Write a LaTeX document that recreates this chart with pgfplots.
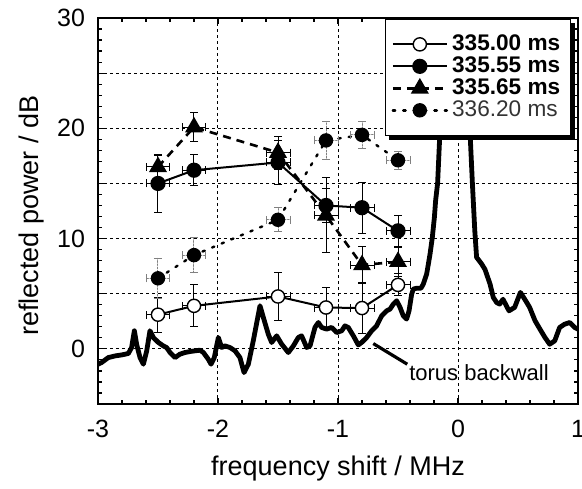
\documentclass[border=0pt]{standalone}
\usepackage{fontspec}
\setmainfont{Liberation Sans}
\usepackage{pgfplots}
\usepackage{pgfplotstable}
\pgfplotsset{compat=1.18}

\pgfplotstableread{
x y ex ey
-2.5 3.1 0.1 1.6
-2.2 3.9 0.1 1.9
-1.5 4.75 0.1 2.2
-1.1 3.75 0.1 1.8
-0.8 3.7 0.1 2.3
-0.5 5.8 0.1 1.0
}\sA
\pgfplotstableread{
x y ex ey
-2.5 15.0 0.1 2.6
-2.2 16.2 0.1 1.4
-1.5 16.9 0.1 2.0
-1.1 13.0 0.1 1.5
-0.8 12.8 0.1 2.3
-0.5 10.7 0.1 1.4
}\sB
\pgfplotstableread{
x y ex ey
-2.5 16.5 0.1 1.0
-2.2 20.1 0.1 1.3
-1.5 17.8 0.1 1.5
-1.1 12.1 0.1 3.4
-0.8 7.6 0.1 1.7
-0.5 7.9 0.1 1.3
}\sC
\pgfplotstableread{
x y ex ey
-2.5 6.4 0.1 1.8
-2.2 8.5 0.1 1.6
-1.5 11.7 0.1 1.1
-1.1 18.9 0.1 1.7
-0.8 19.4 0.1 1.2
-0.5 17.1 0.1 0.8
}\sD
\pgfplotstableread{
x y
-3.00 -1.39
-2.97 -1.24
-2.914 -0.79
-2.858 -0.64
-2.803 -0.55
-2.747 -0.42
-2.72 0.12
-2.697 1.64
-2.678 0.42
-2.65 -0.79
-2.622 -1.39
-2.594 -0.18
-2.567 1.64
-2.539 1.03
-2.497 0.58
-2.456 0.27
-2.428 0.12
-2.40 -0.33
-2.358 -0.79
-2.317 -0.48
-2.275 -0.33
-2.233 -0.24
-2.192 -0.18
-2.15 -0.12
-2.122 -0.33
-2.081 -0.94
-2.058 -1.39
-2.031 -0.79
-1.997 1.03
-1.969 0.12
-1.942 0.27
-1.90 0.12
-1.858 -0.18
-1.817 -0.79
-1.783 -2.15
-1.747 -1.39
-1.706 0.73
-1.65 3.91
-1.622 2.85
-1.581 1.33
-1.553 0.58
-1.511 1.18
-1.469 0.42
-1.414 -0.33
-1.372 0.27
-1.331 1.03
-1.303 1.18
-1.261 0.12
-1.233 0.27
-1.192 1.94
-1.164 2.39
-1.136 1.94
-1.094 1.79
-1.053 1.94
-1.011 1.48
-0.969 1.64
-0.942 2.09
-0.914 1.94
-0.872 1.18
-0.831 0.36
-0.803 0.58
-0.761 1.03
-0.719 1.64
-0.678 2.09
-0.636 3.0
-0.594 3.45
-0.567 3.6
-0.539 4.06
-0.511 4.36
-0.483 3.76
-0.456 3.0
-0.428 2.7
-0.408 3.45
-0.386 4.97
-0.372 5.42
-0.345 5.5
-0.308 5.5
-0.289 5.88
-0.261 6.79
-0.233 8.6
-0.214 10.1
-0.197 11.9
-0.186 13.5
-0.17 15.0
-0.15 19.8
-0.12 25
-0.05 34
0.03 34
0.09 22
0.10 19.7
0.12 15.0
0.14 10.7
0.155 8.3
0.197 7.7
0.225 7.2
0.267 5.88
0.294 4.67
0.322 4.2
0.347 4.06
0.375 4.5
0.425 3.45
0.472 3.76
0.52 5.12
0.564 4.36
0.597 3.76
0.642 2.55
0.683 1.79
0.725 1.03
0.764 0.42
0.806 0.73
0.847 1.94
0.889 2.24
0.931 2.39
0.972 1.94
1.0 1.79
}\spec

\begin{document}
\begin{tikzpicture}
\begin{axis}[
  at={(0,0)}, anchor=south west,
  width=240pt, height=193pt, scale only axis,
  xmin=-3, xmax=1, ymin=-5, ymax=30,
  xtick={-3,-2,-1,0,1}, minor x tick num=4,
  ytick={0,10,20,30}, minor ytick={-5,-4,...,30},
  extra y ticks={5,15,25}, extra y tick labels={,,},
  extra y tick style={grid=major},
  grid=major,
  major grid style={black, line width=0.5pt, dash pattern=on 1.5pt off 1.5pt},
  xtick pos=both, ytick pos=both, tick align=inside,
  major tick length=3pt, minor tick length=2.2pt,
  axis line style={line width=0.8pt},
  every tick/.style={black, line width=0.6pt},
  tick label style={font=\fontsize{12.5}{14}\selectfont},
  xticklabel style={yshift=-4.5pt},
  yticklabel style={xshift=-3pt},
  /pgf/number format/assume math mode=true,
  xlabel={frequency shift / MHz}, ylabel={reflected power / dB},
  label style={font=\fontsize{13.5}{16}\selectfont},
  xlabel style={at={(axis description cs:0.5,-0.166)}, anchor=center},
  ylabel style={at={(axis description cs:-0.1375,0.488)}, anchor=center},
  legend style={name=leg, at={(rel axis cs:0.985,0.998)}, anchor=north east, draw=black,
    line width=0.6pt, fill=white, font=\fontsize{11.3}{13}\selectfont,
    row sep=0pt, inner xsep=3pt, inner ysep=7pt,
    nodes={inner xsep=2pt, inner ysep=0.8pt},
    cells={anchor=west}},
  legend image code/.code={\draw[mark repeat=2,mark phase=2] plot coordinates {(0pt,0pt) (13.5pt,0pt) (27pt,0pt)};},
  error bars/error bar style={black, solid, line width=0.5pt},
  error bars/error mark options={black, solid, line width=0.5pt, mark size=2pt, rotate=90},
]
\addplot[black, line width=2.4pt, line join=round, forget plot] table {\spec};

\addplot[black, line width=1pt, mark=*, mark size=3.3pt, mark options={fill=white, draw=black, line width=0.7pt, solid},
  error bars/.cd, x dir=both, x explicit, y dir=both, y explicit]
  table[x=x, y=y, x error=ex, y error=ey] {\sA};
\addlegendentry{\textbf{335.00 ms}}

\addplot[black, line width=1pt, mark=*, mark size=3.3pt, mark options={fill=black, draw=black, solid},
  error bars/.cd, x dir=both, x explicit, y dir=both, y explicit]
  table[x=x, y=y, x error=ex, y error=ey] {\sB};
\addlegendentry{\textbf{335.55 ms}}

\addplot[black, line width=1.3pt, dash pattern=on 4pt off 3pt, mark=triangle*, mark size=3.9pt, mark options={fill=black, draw=black, solid},
  error bars/.cd, x dir=both, x explicit, y dir=both, y explicit]
  table[x=x, y=y, x error=ex, y error=ey] {\sC};
\addlegendentry{\textbf{335.65 ms}}

\addplot[black, line width=1.2pt, dash pattern=on 1.2pt off 4pt, line cap=round, mark=*, mark size=3pt, mark options={fill=black, draw=black, solid},
  error bars/.cd, x dir=both, x explicit, y dir=both, y explicit,
  error bar style={gray, line width=0.5pt, dash pattern=on 0.8pt off 0.8pt},
  error mark options={gray, line width=0.5pt, mark size=2pt, rotate=90}]
  table[x=x, y=y, x error=ex, y error=ey] {\sD};
\addlegendentry{\textcolor{black!80}{336.20 ms}}

\draw[line width=1.6pt] (axis cs:-0.706,0.48) -- (axis cs:-0.423,-1.39);
\node[font=\fontsize{11}{13}\selectfont] at (axis cs:0.175,-2.2) {torus backwall};
\end{axis}
\draw[line width=2.2pt] ([xshift=2.2pt,yshift=-1.1pt]leg.south west) -- ([xshift=1.1pt,yshift=-1.1pt]leg.south east) -- ([xshift=1.1pt,yshift=-2.2pt]leg.north east);
\pgfresetboundingbox
\path (-49pt,-42pt) rectangle (242pt,202pt);
\end{tikzpicture}
\end{document}
